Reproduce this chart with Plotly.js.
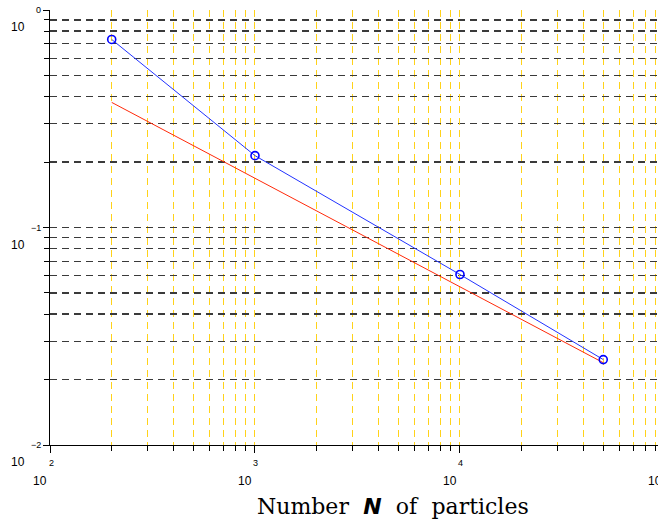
<!DOCTYPE html>
<html><head><meta charset="utf-8">
<script src="https://cdn.plot.ly/plotly-3.0.1.min.js"></script>
<style>html,body{margin:0;padding:0;background:#fff;}#chart{width:658px;height:520px;}</style>
</head><body><div id="chart"></div>
<script>
// data
const particleCounts = [200, 1000, 10000, 50000];
const errorMeasured = [0.732, 0.214, 0.0608, 0.0247];
const refCounts = [200, 50000];
const errorReference = [0.376, 0.0239];
const xExponents = [2, 3, 4, 5];
const yExponents = [0, -1, -2];
const xTitle = 'Number \u2004<i><b><span style="font-family:DejaVu Sans">N</span></b></i> \u2004of \u2004particles';

const xRange = [2, 4.966];
const yRange = [-2, 0];

function minorVals(lo, hi) {
  const v = [];
  for (let e = lo; e < hi; e++) for (let m = 2; m <= 9; m++) v.push(m * Math.pow(10, e));
  return v;
}
const xMinor = minorVals(2, 5);
const yMinor = minorVals(-2, 0);
const xMajor = xExponents.map(e => Math.pow(10, e));
const yMajor = yExponents.map(e => Math.pow(10, e));

const traces = [
  {x: refCounts, y: errorReference, mode: 'lines', line: {color: '#ff2a0a', width: 1}, showlegend: false},
  {x: particleCounts, y: errorMeasured, mode: 'lines+markers', line: {color: '#2233ff', width: 1},
   marker: {symbol: 'circle-open', size: 8, color: '#0000ff', line: {width: 1.6, color: '#0000ff'}}, showlegend: false}
];

const ann = [];
const lf = {family: 'Liberation Sans, Arial, sans-serif', color: '#000'};
xExponents.forEach(e => {
  const px = (e - xRange[0]) / (xRange[1] - xRange[0]);
  if (px <= 1) {
    ann.push({xref: 'paper', yref: 'paper', x: px, y: 0, yshift: -18, xshift: 1, text: String(e), showarrow: false,
              font: Object.assign({size: 9}, lf), xanchor: 'center', yanchor: 'middle'});
  }
  ann.push({xref: 'paper', yref: 'paper', x: px, y: 0, yshift: -36, xshift: -10, text: '10', showarrow: false,
            font: Object.assign({size: 12}, lf), xanchor: 'center', yanchor: 'middle'});
});
yExponents.forEach(e => {
  const py = (e - yRange[0]) / (yRange[1] - yRange[0]);
  ann.push({xref: 'paper', yref: 'paper', x: 0, y: py, xshift: -7, yshift: 0, text: (e < 0 ? '\u2212' : '') + Math.abs(e), showarrow: false,
            font: Object.assign({size: 9}, lf), xanchor: 'right', yanchor: 'middle'});
  ann.push({xref: 'paper', yref: 'paper', x: 0, y: py, xshift: -32, yshift: -17, text: '10', showarrow: false,
            font: Object.assign({size: 12}, lf), xanchor: 'center', yanchor: 'middle'});
});
// x-axis title
ann.push({xref: 'paper', yref: 'paper', x: (393 - 50) / 608, y: 0, yshift: -61, text: xTitle, showarrow: false,
          font: {family: 'DejaVu Serif, serif', size: 22, color: '#000'}, xanchor: 'center', yanchor: 'middle'});

const layout = {
  width: 658, height: 520,
  margin: {l: 50, r: 0, t: 9.5, b: 75.3},
  paper_bgcolor: '#fff', plot_bgcolor: '#fff',
  showlegend: false,
  xaxis: {
    type: 'log', range: xRange, showline: true, linecolor: '#000', linewidth: 1.2,
    tickmode: 'array', tickvals: xMajor, showticklabels: false, ticks: 'outside', ticklen: 7, tickcolor: '#000', tickwidth: 1,
    showgrid: true, gridcolor: '#ffd21a', griddash: '7px,5px', gridwidth: 1,
    minor: {tickmode: 'array', tickvals: xMinor, ticks: 'outside', ticklen: 5, tickcolor: '#000', showgrid: true,
            gridcolor: '#ffd21a', griddash: '7px,5px', gridwidth: 1},
    zeroline: false
  },
  yaxis: {
    type: 'log', range: yRange, showline: true, linecolor: '#000', linewidth: 1.2,
    tickmode: 'array', tickvals: yMajor, showticklabels: false, ticks: 'outside', ticklen: 6, tickcolor: '#000', tickwidth: 1,
    showgrid: true, gridcolor: '#3a3a3a', griddash: '7px,5px', gridwidth: 1.2,
    minor: {tickmode: 'array', tickvals: yMinor, ticks: 'outside', ticklen: 5, tickcolor: '#000', showgrid: true,
            gridcolor: '#3a3a3a', griddash: '7px,5px', gridwidth: 1.2},
    zeroline: false
  },
  xaxis2: {type: 'log', range: xRange, overlaying: 'x', anchor: 'y', side: 'bottom', showline: false, showgrid: false,
    tickmode: 'array', tickvals: xMajor, showticklabels: false, ticks: 'inside', ticklen: 4, tickcolor: '#000',
    minor: {tickmode: 'array', tickvals: xMinor, ticks: 'inside', ticklen: 4, tickcolor: '#000', showgrid: false}, zeroline: false},
  yaxis2: {type: 'log', range: yRange, overlaying: 'y', anchor: 'x', side: 'left', showline: false, showgrid: false,
    tickmode: 'array', tickvals: yMajor, showticklabels: false, ticks: 'inside', ticklen: 6, tickcolor: '#000',
    minor: {tickmode: 'array', tickvals: yMinor, ticks: 'inside', ticklen: 5, tickcolor: '#000', showgrid: false}, zeroline: false},
  annotations: ann
};

Plotly.newPlot('chart', traces, layout, {displayModeBar: false, staticPlot: true});
</script></body></html>
